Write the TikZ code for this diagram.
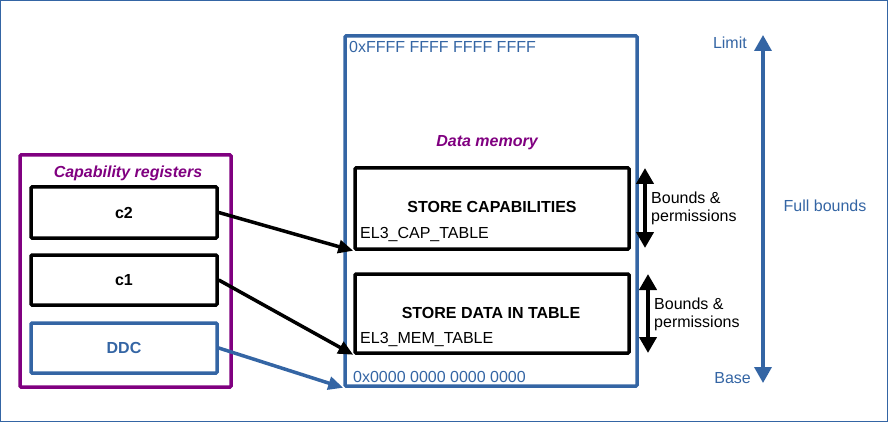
\documentclass[tikz,border=0pt]{standalone}
\usepackage{fontspec}
\setmainfont{Liberation Sans}
\usetikzlibrary{arrows.meta,positioning}
\definecolor{memblue}{HTML}{3465A4}
\definecolor{regpurple}{HTML}{800080}
\begin{document}
\begin{tikzpicture}[x=1pt,y=-1pt,
	every node/.style={font=\fontsize{16}{18}\selectfont},
	box/.style={draw,line width=3.5pt,rounded corners=1pt,inner sep=0pt},
	>={Triangle[length=15pt,width=13pt]}]
	\useasboundingbox (0,0) rectangle (888,422);
	\draw[memblue,line width=1pt] (0.5,0.5) rectangle (887,421.5);
	\node[box,regpurple,minimum width=211pt,minimum height=232pt] (0) at (125.5,271) {};
	\node[regpurple,font=\fontsize{16}{18}\selectfont\bfseries\itshape] (1) at (128,173) {Capability registers};
	\node[box,minimum width=186pt,minimum height=51pt,font=\fontsize{16}{18}\selectfont\bfseries] (2) at (124,212.5) {c2};
	\node[box,minimum width=186pt,minimum height=50pt,font=\fontsize{16}{18}\selectfont\bfseries] (3) at (124,280) {c1};
	\node[box,memblue,minimum width=186pt,minimum height=50pt,font=\fontsize{16}{18}\selectfont\bfseries] (4) at (124,348) {DDC};
	\node[box,memblue,minimum width=292pt,minimum height=350pt] (5) at (491,211) {};
	\node[memblue,anchor=west,inner sep=0pt] (6) at (349,47) {0xFFFF FFFF FFFF FFFF};
	\node[regpurple,font=\fontsize{16}{18}\selectfont\bfseries\itshape] (7) at (487,143) {Data memory};
	\node[box,minimum width=274pt,minimum height=81pt] (8) at (492,208.5) {};
	\node[font=\fontsize{16}{18}\selectfont\bfseries] (9) at (492,207) {STORE CAPABILITIES};
	\node[anchor=west,inner sep=0pt] (10) at (360,235) {EL3\_CAP\_TABLE};
	\node[box,minimum width=274pt,minimum height=79pt] (11) at (492,313.5) {};
	\node[font=\fontsize{16}{18}\selectfont\bfseries] (12) at (491,313) {STORE DATA IN TABLE};
	\node[anchor=west,inner sep=0pt] (13) at (360,340) {EL3\_MEM\_TABLE};
	\node[memblue,anchor=west,inner sep=0pt] (14) at (353,377) {0x0000 0000 0000 0000};
	\coordinate (15) at (645,168);
	\coordinate (16) at (645,248);
	\node[anchor=west,align=left,inner sep=0pt] (17) at (651,208) {Bounds \&\\permissions};
	\coordinate (18) at (648,274);
	\coordinate (19) at (648,353);
	\node[anchor=west,align=left,inner sep=0pt] (20) at (654,314) {Bounds \&\\permissions};
	\coordinate (21) at (763,35);
	\coordinate (22) at (763,383);
	\node[memblue,anchor=east,inner sep=0pt] (23) at (747,43) {Limit};
	\node[memblue,anchor=east,inner sep=0pt] (24) at (751,378) {Base};
	\node[memblue] (25) at (825,206) {Full bounds};
	\draw [->,line width=3.5pt] (2.east) to (8.south west);
	\draw [->,line width=3.5pt] (3.east) to (11.south west);
	\draw [->,memblue,line width=3.5pt] (4.east) to (5.south west);
	\draw [<->,line width=4pt,>={Triangle[length=16pt,width=17pt]}] (15) to (16);
	\draw [<->,line width=4pt,>={Triangle[length=16pt,width=17pt]}] (18) to (19);
	\draw [<->,memblue,line width=3.5pt,>={Triangle[length=16pt,width=17pt]}] (21) to (22);
\end{tikzpicture}
\end{document}
